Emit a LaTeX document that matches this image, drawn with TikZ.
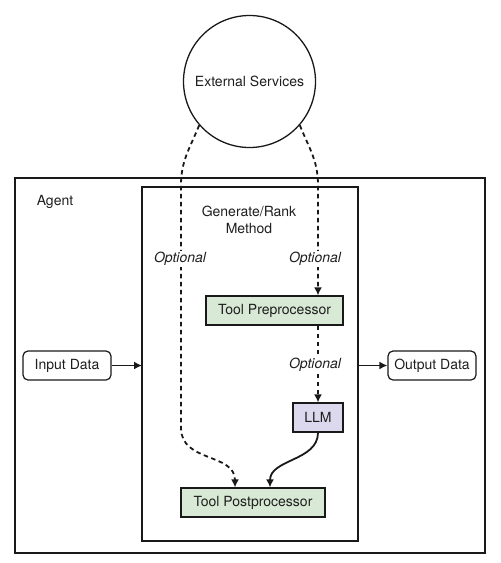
\documentclass[tikz,border=0pt]{standalone}
\usepackage{fontspec}
\setmainfont{TeX Gyre Heros}
\usepackage{tikz}
\usetikzlibrary{arrows.meta, positioning}

\begin{document}
\begin{tikzpicture}[
    x=1pt, y=-1pt,
    box/.style={draw=linegray, line width=1.2pt, minimum height=29pt, inner sep=0pt, align=center},
    databox/.style={box, rounded corners=5pt, minimum width=88pt},
    frame/.style={draw=linegray, line width=1.3pt},
    arrow/.style={-{Latex[length=8pt,width=8pt]}, line width=1.8pt, draw=linegray},
    optarrow/.style={arrow, dash pattern=on 4.5pt off 3.5pt},
    optlabel/.style={fill=white, inner sep=1pt, font=\fontsize{14}{16.5}\selectfont\itshape},
    every node/.style={font=\fontsize{14}{16.5}\selectfont, text=textgray}
]

% Colors
\definecolor{linegray}{RGB}{25,25,25}
\definecolor{textgray}{RGB}{30,30,30}
\definecolor{toolgreen}{RGB}{216,234,213}
\definecolor{llmpurple}{RGB}{220,216,238}

\useasboundingbox (0,0) rectangle (501,563);

% Frames
\draw[frame] (15,178) rectangle (485,553);
\draw[frame] (142,187) rectangle (358,541);
\node (agent) at (55,202) {Agent};
\node[align=center] (method) at (249,220) {Generate/Rank\\Method};

% External services
\node[draw=linegray, line width=1.3pt, circle, minimum size=132pt, inner sep=0pt] (ext) at (249.5,81.5) {External Services};

% Data nodes
\node[databox] (input) at (67,365.5) {Input Data};
\node[databox] (output) at (432,365.5) {Output Data};

% Generate/Rank nodes
\node[box, fill=toolgreen, minimum width=137pt] (pre) at (274.5,310.5) {Tool Preprocessor};
\node[box, fill=llmpurple, minimum width=50pt] (llm) at (318,417.5) {LLM};
\node[box, fill=toolgreen, minimum width=144pt] (post) at (253,502.5) {Tool Postprocessor};

% Bend points
\coordinate (ltop) at (181,185);
\coordinate (lbot) at (181,428);
\coordinate (rtop) at (318,185);

% Arrows
\draw[arrow] (input.east) -- (142,365.5);
\draw[arrow] (358,365.5) -- (output.west);

\draw[optarrow] (ext.-139) to[out=-112, in=90] (ltop) -- (lbot)
    to[out=-90, in=90, looseness=1.1] ([xshift=-18pt]post.north);
\draw[optarrow] (ext.-41) to[out=-68, in=90] (rtop) -- (pre.north -| llm.north);
\draw[optarrow] (pre.south -| llm.north) -- (llm.north);
\draw[arrow] (llm.south) to[out=-90, in=90] ([xshift=17pt]post.north);

% Labels
\node[optlabel] (opt1) at (180,259) {Optional};
\node[optlabel] (opt2) at (315,259) {Optional};
\node[optlabel] (opt3) at (315,365) {Optional};

\end{tikzpicture}
\end{document}
